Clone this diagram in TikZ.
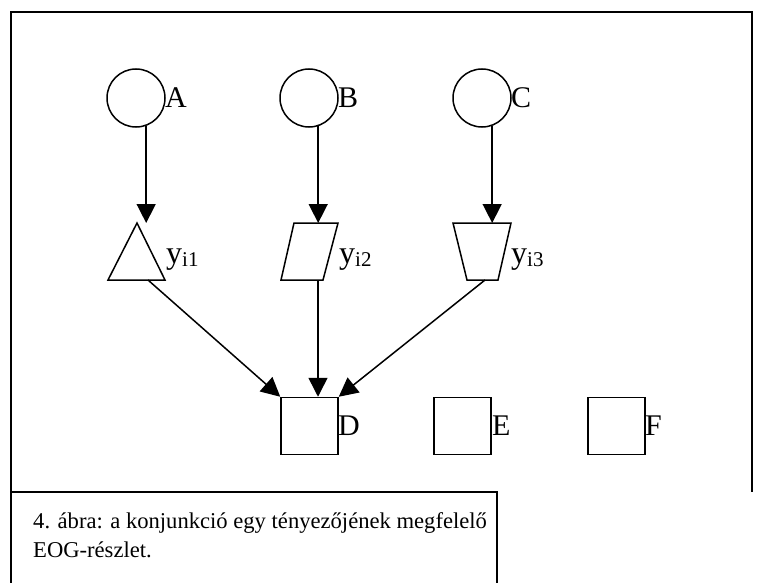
\documentclass[tikz,border=0pt]{standalone}
\usepackage{fontspec}
\setmainfont{Liberation Serif}
\usetikzlibrary{arrows.meta}
\begin{document}
\begin{tikzpicture}[x=1pt,y=-1pt,
  ln/.style={line width=1.5pt},
  arr/.style={ln,-{Triangle[length=19pt,width=19pt]}},
  circ/.style={circle,draw,ln,minimum size=58pt,inner sep=0pt},
  sq/.style={rectangle,draw,ln,minimum size=57pt,inner sep=0pt},
  lab/.style={font=\fontsize{30}{32}\selectfont,inner sep=0pt,anchor=west},
  ylab/.style={font=\fontsize{32}{34}\selectfont,inner sep=0pt,anchor=base west},
  shp/.style={draw,ln,line join=miter}
]
\newcommand{\subx}[1]{\raisebox{-3pt}{\fontsize{21}{23}\selectfont #1}}
\useasboundingbox (0,0) rectangle (768,583);
% frames
\draw[ln] (11,583) -- (11,12) -- (752,12) -- (752,492);
\draw[ln] (11,492) -- (497,492) -- (497,583);
% circles
\node[circ] (A) at (136,98) {};
\node[circ] (B) at (309,98) {};
\node[circ] (C) at (482,98) {};
\node[lab] (Al) at (165,98) {A};
\node[lab] (Bl) at (338,98) {B};
\node[lab] (Cl) at (511,98) {C};
% shapes
\coordinate (Ttop) at (137,223);
\coordinate (Tbot) at (148,280);
\draw[shp] (Ttop) -- (165,280) -- (108,280) -- cycle;
\coordinate (Ptop) at (318,223);
\coordinate (Pbot) at (318,280);
\draw[shp] (294,223) -- (338,223) -- (323,280) -- (281,280) -- cycle;
\coordinate (Qtop) at (492,223);
\coordinate (Qbot) at (485,280);
\draw[shp] (453,223) -- (511,223) -- (498,280) -- (467,280) -- cycle;
\node[ylab] (y1) at (166,263) {y\subx{i1}};
\node[ylab] (y2) at (339,263) {y\subx{i2}};
\node[ylab] (y3) at (511,263) {y\subx{i3}};
% squares
\node[sq] (D) at (309.5,426) {};
\node[sq] (E) at (462.5,426) {};
\node[sq] (F) at (616.5,426) {};
\node[lab] (Dl) at (338,426) {D};
\node[lab] (El) at (492,426) {E};
\node[lab] (Fl) at (645,426) {F};
% arrows
\draw[arr] (A.-70) -- (A.-70 |- Ttop);
\draw[arr] (B.-72) -- (B.-72 |- Ptop);
\draw[arr] (C.-70) -- (C.-70 |- Qtop);
\draw[arr] (Tbot) -- (D.north west);
\draw[arr] (Pbot) -- (Pbot |- D.north);
\draw[arr] (Qbot) -- (D.north east);
% caption
\node[anchor=base west,align=left,inner sep=0pt,font=\fontsize{22.6}{29}\selectfont] (cap) at (33,557)
  {4. ábra: a konjunkció egy tényezőjének megfelelő\\EOG-részlet.};
\end{tikzpicture}
\end{document}
